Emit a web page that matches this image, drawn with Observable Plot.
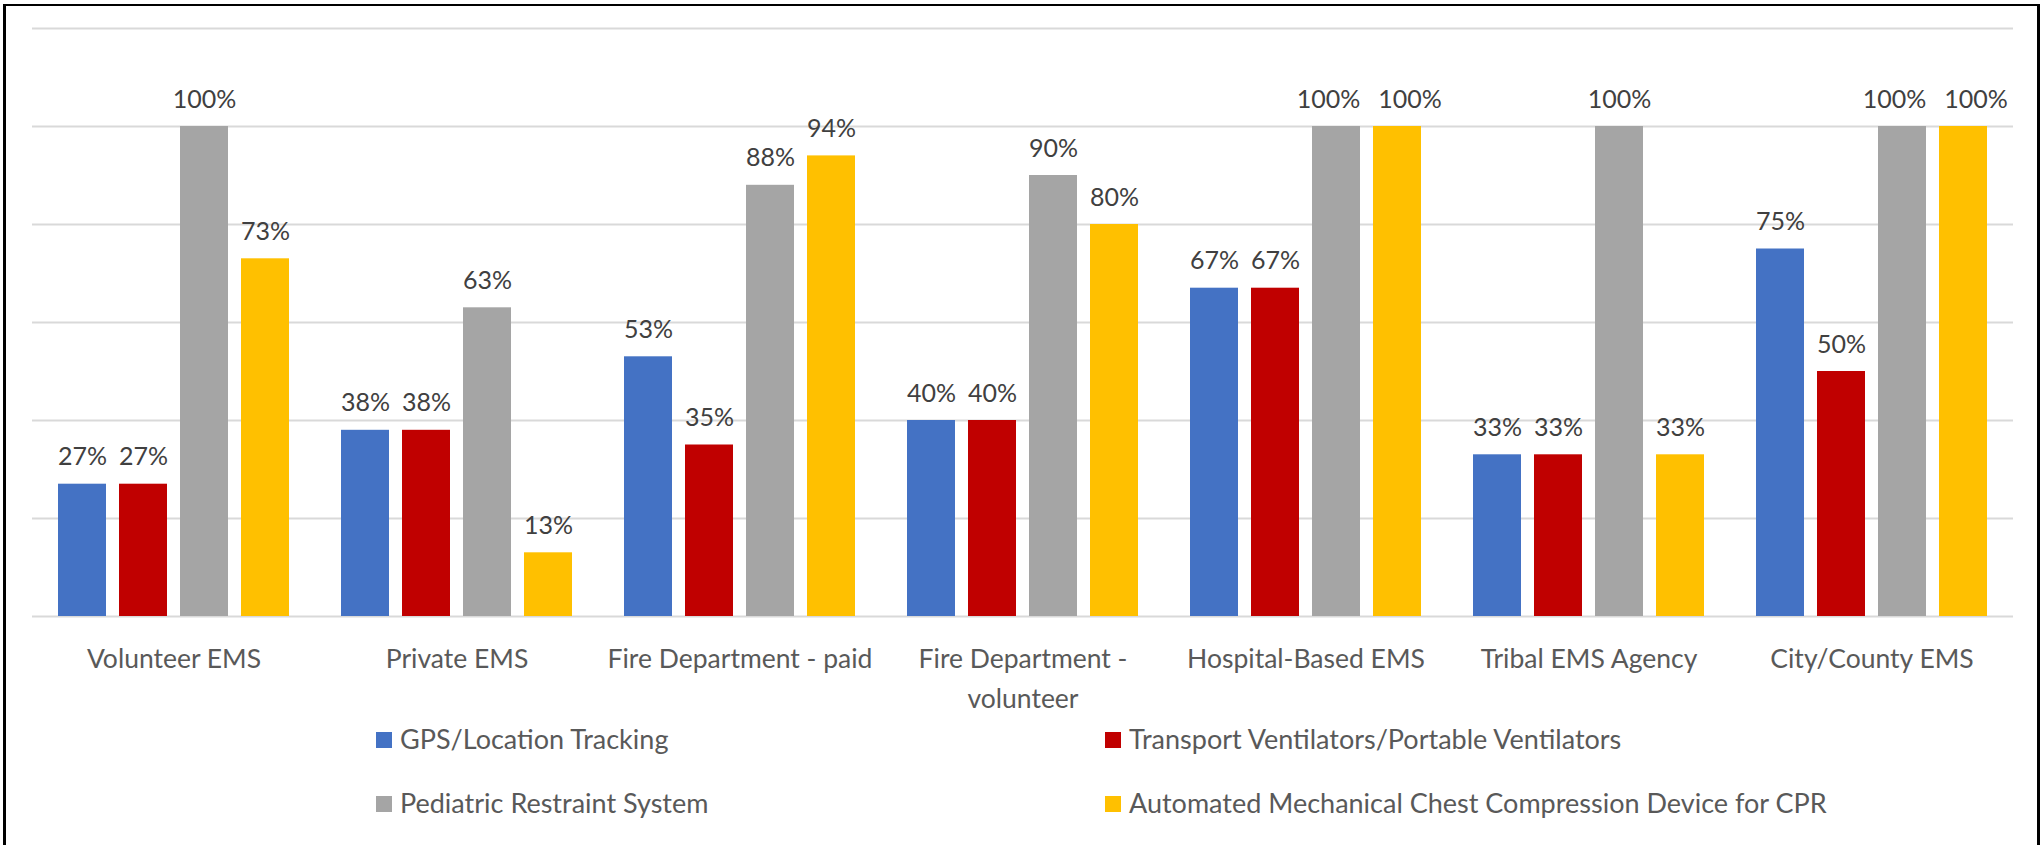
<!DOCTYPE html>
<html>
<head>
<meta charset="utf-8">
<script src="https://cdn.jsdelivr.net/npm/d3@7"></script>
<script src="https://cdn.jsdelivr.net/npm/@observablehq/plot@0.6"></script>
<style>
  html, body { margin: 0; padding: 0; background: #fff; overflow: hidden; width: 2041px; height: 845px; }
  #frame { position: absolute; left: 3px; top: 4px; width: 2037px; height: 900px; box-sizing: border-box; border: 3px solid #000; border-top-width: 2px; }
  #chart { position: absolute; left: 0; top: 0; }
  #legend { position: absolute; left: 0; top: 0; width: 2041px; height: 845px; pointer-events: none; }
  .item { position: absolute; display: flex; align-items: center; height: 34px; line-height: 1.2; font-family: Lato, sans-serif; font-size: 27px; color: #595959; white-space: nowrap; }
  .sw { display: inline-block; width: 16px; height: 16px; margin-right: 8px; }
</style>
</head>
<body>
<div id="frame"></div>
<div id="chart"></div>
<div id="legend"></div>
<script>
const categories = ["Volunteer EMS", "Private EMS", "Fire Department - paid", "Fire Department - volunteer", "Hospital-Based EMS", "Tribal EMS Agency", "City/County EMS"];
const categoryLabels = ["Volunteer EMS", "Private EMS", "Fire Department - paid", "Fire Department -\nvolunteer", "Hospital-Based EMS", "Tribal EMS Agency", "City/County EMS"];
const seriesNames = ["GPS/Location Tracking", "Transport Ventilators/Portable Ventilators", "Pediatric Restraint System", "Automated Mechanical Chest Compression Device for CPR"];
const gpsTracking = [27, 38, 53, 40, 67, 33, 75];
const transportVentilators = [27, 38, 35, 40, 67, 33, 50];
const pediatricRestraint = [100, 63, 88, 90, 100, 100, 100];
const chestCompression = [73, 13, 94, 80, 100, 33, 100];
const seriesColors = ["#4472C4", "#C00000", "#A5A5A5", "#FFC000"];
const yGridTicks = [0, 20, 40, 60, 80, 100, 120];

const seriesValues = [gpsTracking, transportVentilators, pediatricRestraint, chestCompression];
const rows = [];
categories.forEach((c, i) => {
  seriesNames.forEach((s, j) => {
    const v = seriesValues[j][i];
    // labels too wide for a bar step (3-digit) that sit next to an equal neighbour are nudged apart
    let shift = 0;
    const label = v + "%";
    if (label.length >= 4) {
      if (j < 3 && seriesValues[j + 1][i] === v) shift = -1;
      else if (j > 0 && seriesValues[j - 1][i] === v) shift = 1;
    }
    rows.push({category: c, series: s, value: v, label, shift});
  });
});

const labelOpts = {fx: "category", x: "series", y: "value", text: "label", dy: -27, fill: "#404040", fontSize: 25};

const chart = Plot.plot({
  width: 2041,
  height: 720,
  marginLeft: 32,
  marginRight: 28,
  marginTop: 28,
  marginBottom: 104,
  style: {fontFamily: "Lato, sans-serif", fontSize: "26.5px", background: "transparent", color: "#595959"},
  fx: {domain: categories, padding: 0, label: null},
  x: {domain: seriesNames, paddingInner: 0.21, paddingOuter: 0.41, axis: null},
  y: {domain: [0, 120], axis: null},
  color: {domain: seriesNames, range: seriesColors},
  marks: [
    Plot.gridY(yGridTicks, {stroke: "#d9d9d9", strokeOpacity: 1, strokeWidth: 2}),
    Plot.barY(rows, {fx: "category", x: "series", y: "value", fill: "series"}),
    Plot.text(rows.filter(d => d.shift === 0), labelOpts),
    Plot.text(rows.filter(d => d.shift < 0), {...labelOpts, dx: -8}),
    Plot.text(rows.filter(d => d.shift > 0), {...labelOpts, dx: 12.5}),
    Plot.axisFx({anchor: "bottom", tickSize: 0, tickPadding: 23, label: null, fill: "#595959", fontSize: 26.5, lineHeight: 1.52,
      tickFormat: d => categoryLabels[categories.indexOf(d)]})
  ]
});
document.getElementById("chart").appendChild(chart);

const legend = document.getElementById("legend");
const colLeft = [376, 1105];
const rowCenter = [739.7, 803.7];
seriesNames.forEach((s, j) => {
  const item = document.createElement("div");
  item.className = "item";
  item.style.left = colLeft[j % 2] + "px";
  item.style.top = (rowCenter[Math.floor(j / 2)] - 17) + "px";
  const sw = document.createElement("span");
  sw.className = "sw";
  sw.style.background = seriesColors[j];
  const t = document.createElement("span");
  t.textContent = s;
  item.appendChild(sw);
  item.appendChild(t);
  legend.appendChild(item);
});
</script>
</body>
</html>
